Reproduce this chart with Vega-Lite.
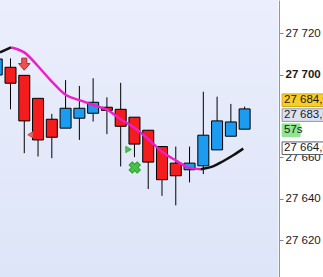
{
  "$schema": "https://vega.github.io/schema/vega-lite/v6.json",
  "width": 323,
  "height": 277,
  "autosize": {"type": "none"},
  "padding": 0,
  "background": "#ffffff",
  "config": {"view": {"stroke": null}, "font": "Liberation Sans"},
  "datasets": {
    "candles": [
      {"i": 0, "open": 27699.8, "close": 27707.5, "high": 27709.0, "low": 27698.0, "dir": "up"},
      {"i": 1, "open": 27703.5, "close": 27695.8, "high": 27707.8, "low": 27683.2, "dir": "down"},
      {"i": 2, "open": 27699.6, "close": 27677.6, "high": 27699.6, "low": 27662.0, "dir": "down"},
      {"i": 3, "open": 27688.5, "close": 27668.4, "high": 27688.5, "low": 27660.4, "dir": "down"},
      {"i": 4, "open": 27678.4, "close": 27669.7, "high": 27681.0, "low": 27659.6, "dir": "down"},
      {"i": 5, "open": 27674.1, "close": 27683.7, "high": 27697.3, "low": 27674.1, "dir": "up"},
      {"i": 6, "open": 27678.9, "close": 27683.7, "high": 27694.5, "low": 27668.4, "dir": "up"},
      {"i": 7, "open": 27681.3, "close": 27686.6, "high": 27698.2, "low": 27677.3, "dir": "up"},
      {"i": 8, "open": 27684.2, "close": 27682.7, "high": 27689.0, "low": 27671.2, "dir": "down"},
      {"i": 9, "open": 27683.2, "close": 27675.0, "high": 27696.0, "low": 27655.6, "dir": "down"},
      {"i": 10, "open": 27679.4, "close": 27666.4, "high": 27679.4, "low": 27660.1, "dir": "down"},
      {"i": 11, "open": 27673.1, "close": 27657.7, "high": 27673.1, "low": 27644.7, "dir": "down"},
      {"i": 12, "open": 27665.2, "close": 27649.2, "high": 27665.2, "low": 27641.4, "dir": "down"},
      {"i": 13, "open": 27657.2, "close": 27651.1, "high": 27665.2, "low": 27636.8, "dir": "down"},
      {"i": 14, "open": 27654.0, "close": 27657.2, "high": 27665.2, "low": 27647.9, "dir": "up"},
      {"i": 15, "open": 27655.9, "close": 27670.7, "high": 27691.7, "low": 27651.9, "dir": "up"},
      {"i": 16, "open": 27663.6, "close": 27677.6, "high": 27689.3, "low": 27663.6, "dir": "up"},
      {"i": 17, "open": 27670.2, "close": 27677.1, "high": 27685.8, "low": 27670.2, "dir": "up"},
      {"i": 18, "open": 27673.6, "close": 27683.4, "high": 27684.5, "low": 27673.6, "dir": "up"}
    ],
    "ma": [
      {"i": 0.24, "v": 27710.7, "seg": "a", "trend": "up"},
      {"i": 1.04, "v": 27713.1, "seg": "a", "trend": "up"},
      {"i": 1.04, "v": 27713.1, "seg": "b", "trend": "down"},
      {"i": 2, "v": 27710.7, "seg": "b", "trend": "down"},
      {"i": 3, "v": 27704.0, "seg": "b", "trend": "down"},
      {"i": 4, "v": 27696.6, "seg": "b", "trend": "down"},
      {"i": 5, "v": 27690.2, "seg": "b", "trend": "down"},
      {"i": 6, "v": 27687.6, "seg": "b", "trend": "down"},
      {"i": 7, "v": 27685.3, "seg": "b", "trend": "down"},
      {"i": 8, "v": 27683.0, "seg": "b", "trend": "down"},
      {"i": 9, "v": 27678.4, "seg": "b", "trend": "down"},
      {"i": 10, "v": 27674.3, "seg": "b", "trend": "down"},
      {"i": 11, "v": 27668.8, "seg": "b", "trend": "down"},
      {"i": 12, "v": 27662.7, "seg": "b", "trend": "down"},
      {"i": 13, "v": 27658.5, "seg": "b", "trend": "down"},
      {"i": 14, "v": 27654.9, "seg": "b", "trend": "down"},
      {"i": 14.8, "v": 27654.3, "seg": "b", "trend": "down"},
      {"i": 14.8, "v": 27654.3, "seg": "c", "trend": "up"},
      {"i": 15.7, "v": 27655.6, "seg": "c", "trend": "up"},
      {"i": 16.4, "v": 27658.0, "seg": "c", "trend": "up"},
      {"i": 17.2, "v": 27661.1, "seg": "c", "trend": "up"},
      {"i": 17.9, "v": 27664.2, "seg": "c", "trend": "up"}
    ],
    "signals": [
      {"i": 2, "v": 27705.0, "kind": "sell_arrow"},
      {"i": 2.45, "v": 27670.9, "kind": "sell_tri"},
      {"i": 9.57, "v": 27663.8, "kind": "buy_tri"},
      {"i": 10.02, "v": 27655.1, "kind": "buy_cross"}
    ],
    "badges": [
      {"label": "27 684,0", "kind": "ask", "v": 27687.6},
      {"label": "27 683,0", "kind": "last", "v": 27680.4},
      {"label": "57s", "kind": "timer", "v": 27673.1},
      {"label": "27 664,0", "kind": "ma", "v": 27664.4}
    ]
  },
  "resolve": {"scale": {"fill": "independent", "stroke": "independent", "shape": "independent"}},
  "layer": [
    {
      "data": {"values": [{}]},
      "mark": {
        "type": "rect",
        "fill": {"gradient": "linear", "x1": 0, "y1": 0, "x2": 0, "y2": 1,
          "stops": [{"offset": 0, "color": "#ebeefc"}, {"offset": 1, "color": "#dde5f8"}]}
      },
      "encoding": {
        "x": {"datum": 0.2375, "type": "quantitative", "scale": {"domain": [0.2375, 23.69], "nice": false, "zero": false, "padding": 0}, "axis": null},
        "x2": {"datum": 20.45},
        "y": {"datum": 27602.2, "type": "quantitative", "scale": {"domain": [27602.2, 27736.0], "nice": false, "zero": false, "padding": 0},
          "axis": {
            "orient": "right", "offset": -44, "title": null,
            "values": [27620, 27640, 27660, 27700, 27720],
            "labelExpr": "replace(format(datum.value, ','), ',', ' ')",
            "labelFont": "Liberation Sans", "labelFontSize": 11.5, "labelColor": "#1a1a1a",
            "labelFontWeight": {"condition": {"test": "datum.value == 27700", "value": "bold"}, "value": "normal"},
            "labelPadding": 2, "tickSize": 4, "tickColor": "#7d86a0", "domainColor": "#8a93b0", "grid": false,
            "labelBaseline": "middle"
          }},
        "y2": {"datum": 27736.0}
      }
    },
    {
      "data": {"name": "candles"},
      "mark": {"type": "rule", "color": "#000000", "strokeWidth": 1},
      "encoding": {
        "x": {"field": "i", "type": "quantitative"},
        "y": {"field": "low", "type": "quantitative"},
        "y2": {"field": "high"}
      }
    },
    {
      "data": {"name": "candles"},
      "mark": {"type": "bar", "size": 11, "stroke": "#000000", "strokeWidth": 1},
      "encoding": {
        "x": {"field": "i", "type": "quantitative"},
        "y": {"field": "open", "type": "quantitative"},
        "y2": {"field": "close"},
        "fill": {"field": "dir", "type": "nominal", "scale": {"domain": ["up", "down"], "range": ["#1c9cf0", "#f41c1c"]}, "legend": null}
      }
    },
    {
      "data": {"name": "ma"},
      "mark": {"type": "line", "strokeWidth": 2.5, "interpolate": "monotone"},
      "encoding": {
        "x": {"field": "i", "type": "quantitative"},
        "y": {"field": "v", "type": "quantitative"},
        "detail": {"field": "seg"},
        "stroke": {"field": "trend", "type": "nominal", "scale": {"domain": ["up", "down"], "range": ["#111111", "#ee1fca"]}, "legend": null}
      }
    },
    {
      "data": {"name": "signals"},
      "transform": [{"filter": "datum.kind == 'sell_arrow'"}],
      "mark": {"type": "point", "filled": true, "size": 144, "fill": "#f05050", "stroke": "#b02828", "strokeWidth": 1, "opacity": 1,
        "shape": "M-0.42,-1 L0.42,-1 L0.42,-0.1 L0.95,-0.1 L0,1 L-0.95,-0.1 L-0.42,-0.1 Z"},
      "encoding": {"x": {"field": "i", "type": "quantitative"}, "y": {"field": "v", "type": "quantitative"}}
    },
    {
      "data": {"name": "signals"},
      "transform": [{"filter": "datum.kind == 'sell_tri'"}],
      "mark": {"type": "point", "filled": true, "size": 40, "shape": "triangle-left", "fill": "#f06060", "stroke": "#c03a3a", "strokeWidth": 0.8, "opacity": 1},
      "encoding": {"x": {"field": "i", "type": "quantitative"}, "y": {"field": "v", "type": "quantitative"}}
    },
    {
      "data": {"name": "signals"},
      "transform": [{"filter": "datum.kind == 'buy_tri'"}],
      "mark": {"type": "point", "filled": true, "size": 40, "shape": "triangle-right", "fill": "#4cc84c", "stroke": "#2e9e2e", "strokeWidth": 0.8, "opacity": 1},
      "encoding": {"x": {"field": "i", "type": "quantitative"}, "y": {"field": "v", "type": "quantitative"}}
    },
    {
      "data": {"name": "signals"},
      "transform": [{"filter": "datum.kind == 'buy_cross'"}],
      "mark": {"type": "point", "filled": true, "size": 130, "shape": "cross", "angle": 45, "fill": "#44c444", "stroke": "#2e9e2e", "strokeWidth": 1, "opacity": 1},
      "encoding": {"x": {"field": "i", "type": "quantitative"}, "y": {"field": "v", "type": "quantitative"}}
    },
    {
      "data": {"name": "badges"},
      "mark": {"type": "point", "filled": true, "size": 144, "strokeWidth": 1, "opacity": 1},
      "encoding": {
        "x": {"datum": 20.72, "type": "quantitative"},
        "y": {"field": "v", "type": "quantitative"},
        "fill": {"field": "kind", "type": "nominal", "scale": {"domain": ["ask", "last", "timer", "ma"], "range": ["#f7cd2a", "#dde0f0", "#90e690", "#ffffff"]}, "legend": null},
        "stroke": {"field": "kind", "type": "nominal", "scale": {"domain": ["ask", "last", "timer", "ma"], "range": ["#d4aa10", "#8f97b2", "#90e690", "#5a5f70"]}, "legend": null},
        "shape": {"field": "kind", "type": "nominal", "scale": {"domain": ["ask", "last", "timer", "ma"],
          "range": ["M0,-1.05 L7.5,-1.05 L7.5,1.05 L0,1.05 Z", "M0,-1.05 L7.5,-1.05 L7.5,1.05 L0,1.05 Z", "M0,-1.05 L3,-1.05 L3,1.05 L0,1.05 Z", "M0,-1.05 L7.5,-1.05 L7.5,1.05 L0,1.05 Z"]}, "legend": null}
      }
    },
    {
      "data": {"name": "badges"},
      "mark": {"type": "text", "align": "left", "baseline": "middle", "font": "Liberation Sans", "fontSize": 11.5, "color": "#1a1a1a"},
      "encoding": {
        "x": {"datum": 20.86, "type": "quantitative"},
        "y": {"field": "v", "type": "quantitative"},
        "text": {"field": "label"}
      }
    }
  ]
}
